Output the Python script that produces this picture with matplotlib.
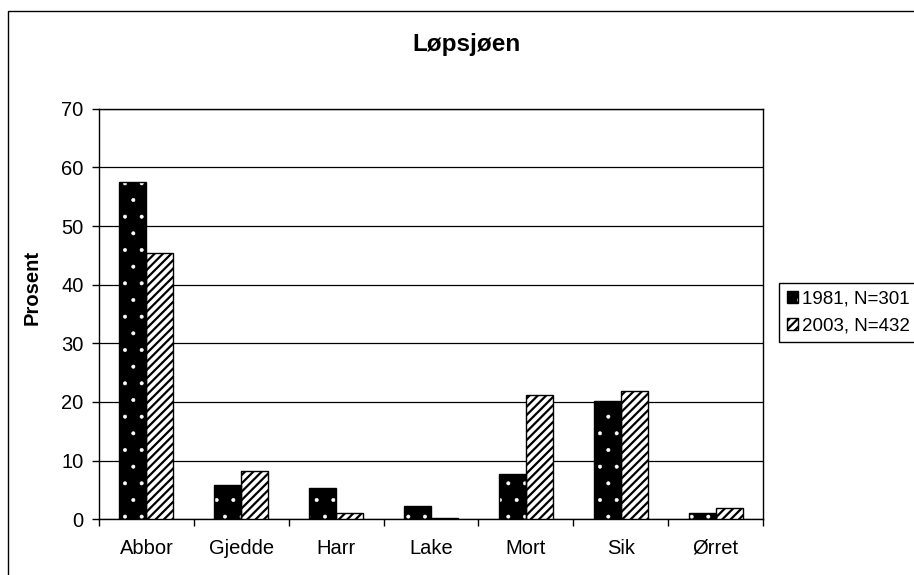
import numpy as np
import matplotlib
matplotlib.use('Agg')
import matplotlib.pyplot as plt
from matplotlib.patches import Rectangle

plt.rcParams['font.family'] = ['Liberation Sans', 'DejaVu Sans']
plt.rcParams['hatch.linewidth'] = 1.6

arter = ['Abbor', 'Gjedde', 'Harr', 'Lake', 'Mort', 'Sik', 'Ørret']
aar_1981 = [57.5, 5.9, 5.4, 2.3, 7.7, 20.2, 1.1]
aar_2003 = [45.4, 8.2, 1.0, 0.3, 21.2, 21.9, 1.9]
etiketter = ['1981, N=301', '2003, N=432']
y_ticks = [0, 10, 20, 30, 40, 50, 60, 70]

fig = plt.figure(figsize=(9.14, 5.75), dpi=100)
ax = fig.add_axes([99/914, 1-519.3/575, 664/914, 410.6/575])

x = np.arange(len(arter))
w = 0.285

# 1981: svart med hvite prikker, tegnes i to lag
with plt.rc_context({'hatch.linewidth': 0.4}):
    b1_fill = ax.bar(x - w/2, aar_1981, w, color='black', edgecolor='white',
                     hatch='.', linewidth=0, zorder=3)
for p in b1_fill:
    if hasattr(p, 'set_hatch_linewidth'):
        p.set_hatch_linewidth(0.4)
b1_edge = ax.bar(x - w/2, aar_1981, w, fill=False, edgecolor='black',
                 linewidth=1, zorder=4)
# 2003: skravert
b2 = ax.bar(x + w/2, aar_2003, w, color='white', edgecolor='black',
            hatch='////', linewidth=1, zorder=3)

ax.set_xlim(-0.5, len(arter) - 0.5)
ax.set_ylim(0, 70)
ax.set_yticks(y_ticks)
ax.yaxis.grid(True, color='black', linewidth=0.9, zorder=0)
ax.set_axisbelow(True)

# kategorinavn på felles grunnlinje, streker mellom kategoriene
ax.set_xticks(np.arange(len(arter) + 1) - 0.5)
ax.set_xticklabels([])
ax.tick_params(axis='x', length=5, width=1, direction='out')
for xi, navn in zip(x, arter):
    ax.text(xi, -0.0845, navn, transform=ax.get_xaxis_transform(),
            ha='center', va='baseline', fontsize=14.5)
ax.tick_params(axis='y', length=5, width=1, direction='out', pad=6, labelsize=14.5)

for s in ax.spines.values():
    s.set_color('black')
    s.set_linewidth(1)

ax.set_ylabel('Prosent', fontsize=14.5, fontweight='bold')
ax.yaxis.set_label_coords(42/914, 0.5, transform=fig.transFigure)

fig.text(467/914, 1-44/575, 'Løpsjøen', ha='center', va='center',
         fontsize=17.5, fontweight='bold')

leg = fig.legend([(b1_fill[0], b1_edge[0]), b2[0]], etiketter,
                 loc='upper left', bbox_to_anchor=(779/914, 1-283/575),
                 frameon=True, fancybox=False, edgecolor='black', framealpha=1,
                 fontsize=13.5, handlelength=0.6, handleheight=0.6,
                 handletextpad=0.25, borderpad=0.4, labelspacing=0.55,
                 borderaxespad=0)
leg.get_frame().set_linewidth(1)

# ramme rundt hele diagrammet
fig.patches.append(Rectangle((8/914, -0.1), 2, 1 - 11/575 + 0.1,
                             transform=fig.transFigure, fill=False,
                             edgecolor='black', linewidth=1))

fig.savefig('out.png', dpi=100)
